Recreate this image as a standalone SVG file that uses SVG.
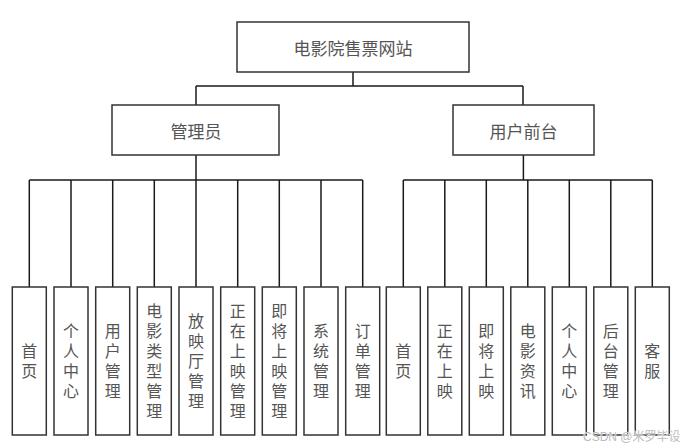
<svg xmlns="http://www.w3.org/2000/svg" width="686" height="448" viewBox="0 0 686 448">
<style>
.box{fill:#fff;stroke:#333;stroke-width:1.5}
.ln{fill:none;stroke:#1a1a1a;stroke-width:1.5}
.t{font-family:"Noto Sans CJK SC","Noto Sans",sans-serif;font-size:17px;fill:#555;text-anchor:middle;dominant-baseline:central}
.v{font-family:"Noto Sans CJK SC","Noto Sans",sans-serif;font-size:16px;fill:#555;text-anchor:middle;writing-mode:vertical-rl;letter-spacing:4px}
.wm{font-family:"Liberation Sans","Noto Sans CJK SC",sans-serif;font-size:12px;fill:#bbb;stroke:#fff;stroke-width:0.6;paint-order:stroke}
</style>
<rect width="686" height="448" fill="#fff"/>
<g id="connectors">
<path class="ln" d="M353 72V86M196 86H523M196 86V105M523 86V105"/>
<path class="ln" d="M196 155V180M29.3 180H362.7M29.3 180V287M71 180V287M112.7 180V287M154.3 180V287M196 180V287M237.7 180V287M279.3 180V287M321 180V287M362.7 180V287"/>
<path class="ln" d="M523.4 155V180M403.3 180H652.3M403.3 180V287M444.8 180V287M486.3 180V287M527.8 180V287M569.3 180V287M610.8 180V287M652.3 180V287"/>
</g>
<g id="root"><rect class="box" x="237" y="22" width="232" height="50"/><text class="t" x="353" y="47">电影院售票网站</text></g>
<g id="admin"><rect class="box" x="112" y="105" width="167" height="50"/><text class="t" x="196" y="130">管理员</text></g>
<g id="user"><rect class="box" x="453" y="105" width="141" height="50"/><text class="t" x="523.4" y="130">用户前台</text></g>
<g id="a1"><rect class="box" x="12.3" y="287" width="34" height="148"/><text class="v" x="29.3" y="363">首页</text></g>
<g id="a2"><rect class="box" x="54" y="287" width="34" height="148"/><text class="v" x="71" y="363">个人中心</text></g>
<g id="a3"><rect class="box" x="95.7" y="287" width="34" height="148"/><text class="v" x="112.7" y="363">用户管理</text></g>
<g id="a4"><rect class="box" x="137.3" y="287" width="34" height="148"/><text class="v" x="154.3" y="363">电影类型管理</text></g>
<g id="a5"><rect class="box" x="179" y="287" width="34" height="148"/><text class="v" x="196" y="363">放映厅管理</text></g>
<g id="a6"><rect class="box" x="220.7" y="287" width="34" height="148"/><text class="v" x="237.7" y="363">正在上映管理</text></g>
<g id="a7"><rect class="box" x="262.3" y="287" width="34" height="148"/><text class="v" x="279.3" y="363">即将上映管理</text></g>
<g id="a8"><rect class="box" x="304" y="287" width="34" height="148"/><text class="v" x="321" y="363">系统管理</text></g>
<g id="a9"><rect class="box" x="345.7" y="287" width="34" height="148"/><text class="v" x="362.7" y="363">订单管理</text></g>
<g id="u1"><rect class="box" x="386.3" y="287" width="34" height="148"/><text class="v" x="403.3" y="363">首页</text></g>
<g id="u2"><rect class="box" x="427.8" y="287" width="34" height="148"/><text class="v" x="444.8" y="363">正在上映</text></g>
<g id="u3"><rect class="box" x="469.3" y="287" width="34" height="148"/><text class="v" x="486.3" y="363">即将上映</text></g>
<g id="u4"><rect class="box" x="510.8" y="287" width="34" height="148"/><text class="v" x="527.8" y="363">电影资讯</text></g>
<g id="u5"><rect class="box" x="552.3" y="287" width="34" height="148"/><text class="v" x="569.3" y="363">个人中心</text></g>
<g id="u6"><rect class="box" x="593.8" y="287" width="34" height="148"/><text class="v" x="610.8" y="363">后台管理</text></g>
<g id="u7"><rect class="box" x="635.3" y="287" width="34" height="148"/><text class="v" x="652.3" y="363">客服</text></g>
<text class="wm" x="583" y="441">CSDN @米罗毕设</text>
</svg>
